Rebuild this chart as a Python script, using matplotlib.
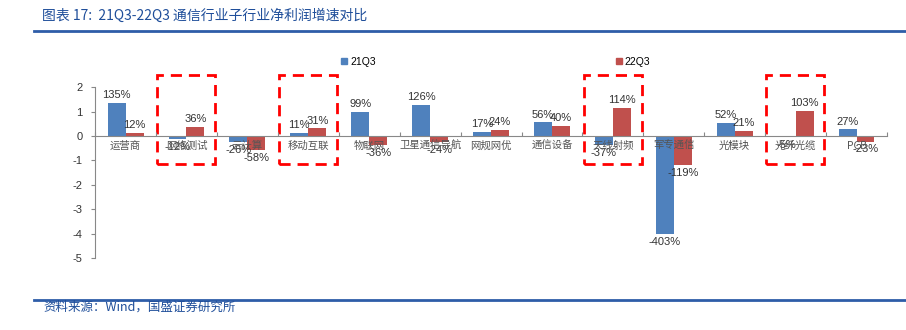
import matplotlib
matplotlib.use("Agg")
import matplotlib.pyplot as plt
import matplotlib.patches as patches
from matplotlib.lines import Line2D
import numpy as np

plt.rcParams['font.family'] = ['Noto Sans CJK SC', 'DejaVu Sans']

# data (growth as ratio, 1 = 100%)
categories = ['运营商', '网络测试', '云计算', '移动互联', '物联网', '卫星通信导航', '网规网优',
              '通信设备', '天线射频', '军专通信', '光模块', '光纤光缆', 'PCB']
q21 = [1.35, -0.12, -0.26, 0.11, 0.99, 1.26, 0.17, 0.56, -0.37, -4.03, 0.52, -0.05, 0.27]
q22 = [0.12, 0.36, -0.58, 0.31, -0.36, -0.24, 0.24, 0.40, 1.14, -1.19, 0.21, 1.03, -0.23]
series_names = ['21Q3', '22Q3']
highlight = ['网络测试', '移动互联', '天线射频', '光纤光缆']
yticks = [2, 1, 0, -1, -2, -3, -4, -5]

blue = '#4F81BD'
red = '#C0504D'
navy = '#1F4E9A'

fig = plt.figure(figsize=(9.06, 3.3), dpi=100)
ax = fig.add_axes([0.105, 0.218, 0.874, 0.518])

x = np.arange(len(categories))
w = 0.295
b1 = ax.bar(x - w / 2, q21, w, color=blue, label=series_names[0])
b2 = ax.bar(x + w / 2, q22, w, color=red, label=series_names[1])

# value labels
for bars, vals in ((b1, q21), (b2, q22)):
    for r, v in zip(bars, vals):
        cx = r.get_x() + r.get_width() / 2
        if v >= 0:
            ax.annotate(f'{v * 100:.0f}%', (cx, v), xytext=(0, 2), textcoords='offset points',
                        ha='center', va='bottom', fontsize=8, color='#333333',
                        family=['Liberation Sans'])
        else:
            ax.annotate(f'{v * 100:.0f}%', (cx, v), xytext=(0, -2), textcoords='offset points',
                        ha='center', va='top', fontsize=8, color='#333333',
                        family=['Liberation Sans'])

ax.set_xlim(-0.5, len(categories) - 0.5)
ax.set_ylim(-5, 2)
ax.set_yticks(yticks)
ax.set_yticklabels([str(t) for t in yticks], family=['Liberation Sans'], fontsize=8, color='#333333')

for s in ['top', 'right']:
    ax.spines[s].set_visible(False)
ax.spines['bottom'].set_position(('data', 0))
ax.spines['bottom'].set_color('#888888')
ax.spines['left'].set_color('#888888')
ax.tick_params(axis='y', length=3, color='#888888', pad=6)

# category labels just under the zero line
ax.set_xticks(np.arange(len(categories) + 1) - 0.5)
ax.set_xticklabels([])
ax.tick_params(axis='x', direction='in', length=3, color='#888888')
for i, c in enumerate(categories):
    ax.text(i, -0.2, c, ha='center', va='top', fontsize=7.5,
            color='#555555', family=['Noto Sans CJK SC', 'DejaVu Sans'])

# red dashed highlight boxes
for name in highlight:
    i = categories.index(name)
    rect = patches.Rectangle((i - 0.48, -1.15), 0.95, 3.65, fill=False, edgecolor='#FF0000',
                             lw=2, linestyle=(0, (4, 2.5)), clip_on=False)
    ax.add_patch(rect)

# legend: two entries spread wide
handles = [patches.Patch(color=blue), patches.Patch(color=red)]
fig.legend(handles, series_names, loc='center left', bbox_to_anchor=(0.366, 0.813), ncol=2,
           frameon=False, handlelength=0.6, handleheight=0.6, handletextpad=0.3,
           columnspacing=23.0, prop={'family': ['Liberation Sans'], 'size': 7.5})

# title, rules and source
fig.text(0.046, 0.953, '图表 17:  21Q3-22Q3 通信行业子行业净利润增速对比', fontsize=10,
         color=navy, style='italic', va='center', ha='left')
fig.add_artist(Line2D([0.0375, 1.0], [0.906, 0.906], color='#2E5DA8', lw=2))
fig.add_artist(Line2D([0.0375, 1.0], [0.092, 0.092], color='#2E5DA8', lw=2))
fig.text(0.048, 0.068, '资料来源：Wind，国盛证券研究所', fontsize=9, color=navy,
         style='italic', va='center', ha='left')

fig.savefig('out.png', dpi=100)
